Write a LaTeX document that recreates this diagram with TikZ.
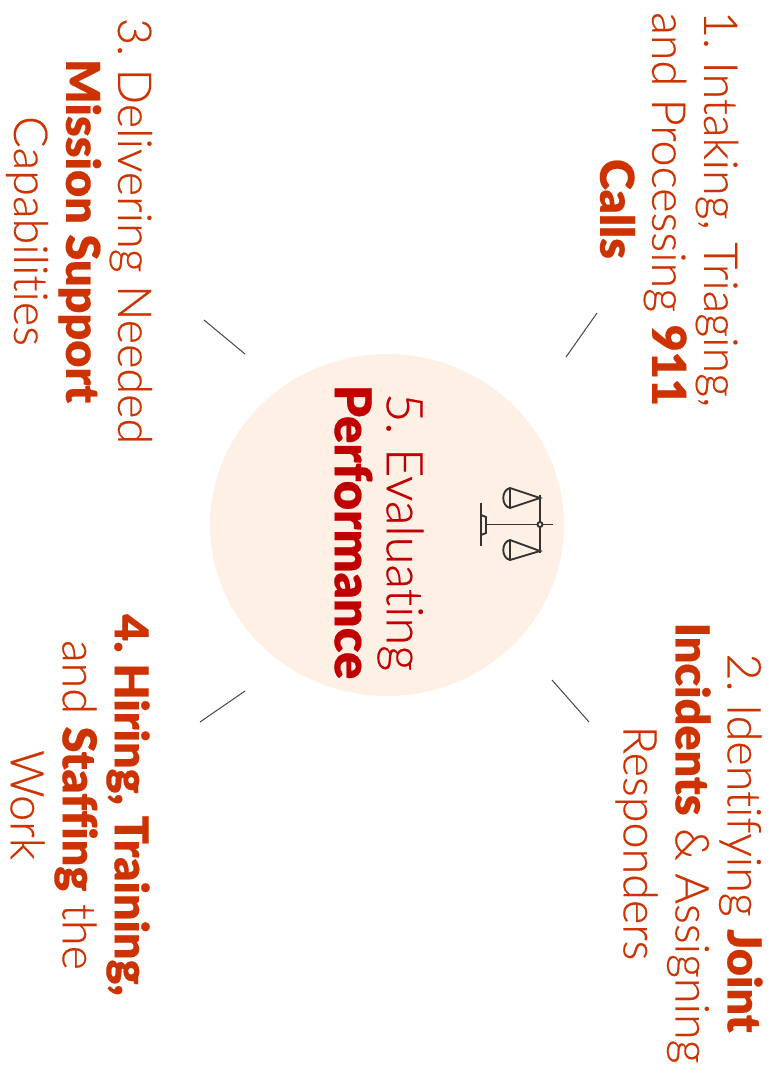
\documentclass[tikz,border=0pt]{standalone}
\usepackage{fontspec}
\usetikzlibrary{shapes.geometric}
\setmainfont{Lato Light}[BoldFont={Lato Black},FakeBold=0.4,Ligatures=NoCommon]
\frenchspacing
\definecolor{stepred}{RGB}{204,51,0}
\definecolor{hubred}{RGB}{192,0,0}
\definecolor{hubfill}{RGB}{254,240,229}
\definecolor{tickgray}{RGB}{70,70,70}
\tikzset{
  steptext/.style={rotate=-90,align=center,inner sep=0pt,text=stepred,font=\fontsize{35}{39}\selectfont},
  hubtext/.style={rotate=-90,align=center,inner sep=0pt,text=hubred,font=\fontsize{38}{39}\selectfont},
  tick/.style={draw=tickgray,line width=0.75pt},
  scaleline/.style={draw=black!80,line width=1.4pt}
}
\begin{document}
\begin{tikzpicture}[x=0.75pt,y=0.75pt,yscale=-1,xscale=1]
\useasboundingbox (0,0) rectangle (768,1074);

%hub circle
\node (hub) [ellipse,fill=hubfill,minimum width=265.5pt,minimum height=256.5pt,inner sep=0pt] at (387,525) {};

%scale icon
\draw [scaleline] (481,503) -- (481,546);
\draw [scaleline] (481,515) -- (486,517) -- (486,533) -- (481,535);
\draw [scaleline] (486,524.5) -- (537.5,524.5);
\draw [scaleline] (542.5,524.5) -- (553,524.5);
\draw [scaleline] (540,495) -- (540,522);
\draw [scaleline] (540,527) -- (540,553);
\draw [scaleline] (540,524.5) circle [radius=2.5];
\draw [scaleline] (540,498) -- (510,488) .. controls (501,490) and (501,506) .. (510,508) -- cycle;
\draw [scaleline] (510,488) -- (510,508);
\draw [scaleline] (540,551) -- (510,540) .. controls (501,542) and (501,558) .. (510,560) -- cycle;
\draw [scaleline] (510,540) -- (510,560);

%text blocks
\node (calls) [steptext] at (669,209) {1. Intaking, Triaging,\\and Processing \textbf{911}\\\textbf{Calls}};
\node (joint) [steptext] at (689,843) {2. Identifying \textbf{Joint}\\\textbf{Incidents} \& Assigning\\Responders};
\node (support) [steptext] at (79,231) {3. Delivering Needed\\\textbf{Mission Support}\\Capabilities};
\node (hiring) [steptext] at (80,805) {\textbf{4. Hiring, Training,}\\and \textbf{Staffing} the\\Work};
\node (perf) [hubtext] at (379,532) {5. Evaluating\\\textbf{Performance}};

%ticks
\coordinate (a1) at (597,313);
\coordinate (a2) at (566,357);
\coordinate (b1) at (552,680);
\coordinate (b2) at (589,722);
\coordinate (c1) at (204,320);
\coordinate (c2) at (245,354);
\coordinate (d1) at (245,691);
\coordinate (d2) at (200,722);
\draw [tick] (a1) -- (a2);
\draw [tick] (b1) -- (b2);
\draw [tick] (c1) -- (c2);
\draw [tick] (d1) -- (d2);
\end{tikzpicture}
\end{document}
